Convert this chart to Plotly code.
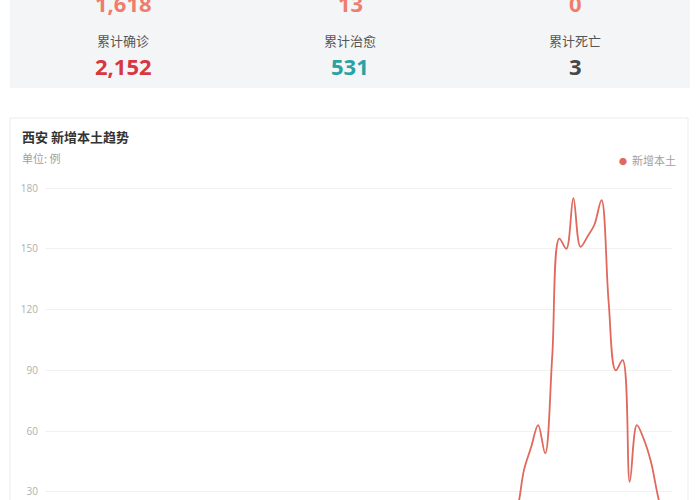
import pandas as pd
import plotly.graph_objects as go

# daily new local cases, Xi'an (early days below the visible window)
dates = pd.date_range('2021-10-13', periods=90).strftime('%Y-%m-%d').tolist()
new_local = [0, 0, 0, 0, 0, 1, 2, 1, 3, 2,
             1, 2, 1, 0, 1, 0, 0, 1, 0, 0,
             0, 0, 0, 0, 0, 0, 0, 0, 0, 0,
             0, 0, 0, 0, 0, 0, 0, 0, 0, 0,
             0, 0, 0, 0, 0, 0, 0, 0, 0, 0,
             0, 0, 0, 0, 0, 0, 0, 1, 0, 3,
             2, 4, 6, 7, 8, 11, 13, 21, 41, 52,
             63, 49, 97, 155, 150, 175, 151, 156, 162, 174,
             124, 90, 95, 35, 63, 56, 45, 28, 14, 8]

stat_labels = ['累计确诊', '累计治愈', '累计死亡']
stat_values = ['2,152', '531', '3']
stat_colors = ['#d8373f', '#27a3a3', '#474747']
top_values = ['1,618', '13', '0']
y_ticks = [30, 60, 90, 120, 150, 180]

W, H = 700, 500
L, R, T, B = 45, 28, 187, 0


def px_x(p):
    return (p - L) / (W - L - R)


def px_y(p):
    return (H - B - p) / (H - T - B)


fig = go.Figure()
fig.add_trace(go.Scatter(
    x=dates, y=new_local, mode='lines', name='新增本土',
    line=dict(color='#e0685c', width=1.8, shape='spline', smoothing=1),
    showlegend=False, hoverinfo='x+y'
))

shapes = [
    # grey stats panel
    dict(type='rect', xref='paper', yref='paper', x0=px_x(10), x1=px_x(690), y0=px_y(88), y1=px_y(-10),
         fillcolor='#f4f5f7', line=dict(width=0), layer='below'),
    # chart card
    dict(type='rect', xref='paper', yref='paper', x0=px_x(10), x1=px_x(688), y0=px_y(520), y1=px_y(118),
         fillcolor='white', line=dict(color='#ebebeb', width=1), layer='below'),
]

ann = []
cols = [123, 350, 575]
for i in range(3):
    ann.append(dict(x=px_x(cols[i]), y=px_y(3), text='<b>' + top_values[i] + '</b>',
                    font=dict(size=22, color='#ef7d6d', family='Open Sans, Noto Sans CJK SC')))
    ann.append(dict(x=px_x(cols[i]), y=px_y(40), text=stat_labels[i],
                    font=dict(size=13, color='#555555', family='Noto Sans CJK SC')))
    ann.append(dict(x=px_x(cols[i]), y=px_y(66), text='<b>' + stat_values[i] + '</b>',
                    font=dict(size=22, color=stat_colors[i], family='Open Sans, Noto Sans CJK SC')))
for a in ann:
    a.update(xref='paper', yref='paper', showarrow=False, xanchor='center', yanchor='middle')

ann.append(dict(x=px_x(20), y=px_y(137), xref='paper', yref='paper', showarrow=False,
                xanchor='left', yanchor='middle', text='<b>西安 新增本土趋势</b>',
                font=dict(size=13, color='#333333', family='Noto Sans CJK SC')))
ann.append(dict(x=px_x(20), y=px_y(158), xref='paper', yref='paper', showarrow=False,
                xanchor='left', yanchor='middle', text='单位: 例',
                font=dict(size=11, color='#a0a0a0', family='Noto Sans CJK SC')))
# legend
ann.append(dict(x=px_x(678), y=px_y(160), xref='paper', yref='paper', showarrow=False,
                xanchor='right', yanchor='middle',
                text='<span style="color:#e0685c;font-size:8px">●</span>  新增本土',
                font=dict(size=11, color='#a0a0a0', family='Noto Sans CJK SC')))

fig.update_layout(
    width=W, height=H,
    margin=dict(l=L, r=R, t=T, b=B),
    paper_bgcolor='white', plot_bgcolor='white',
    shapes=shapes, annotations=ann,
    showlegend=False,
    xaxis=dict(showticklabels=False, showgrid=False, zeroline=False, showline=False, ticks=''),
    yaxis=dict(range=[26, 180.5], tickvals=y_ticks, showgrid=True, gridcolor='#f1f1f1',
               zeroline=False, showline=False, ticks='', ticklabelstandoff=6,
               tickfont=dict(size=10, color='#b0b0b0', family='Open Sans')),
    font=dict(family='Noto Sans CJK SC'),
)

# drop the default page margin so the figure sits at the window corner
fig.write_html("out.html", config={'displayModeBar': False},
               post_script="document.body.style.margin='0';")
